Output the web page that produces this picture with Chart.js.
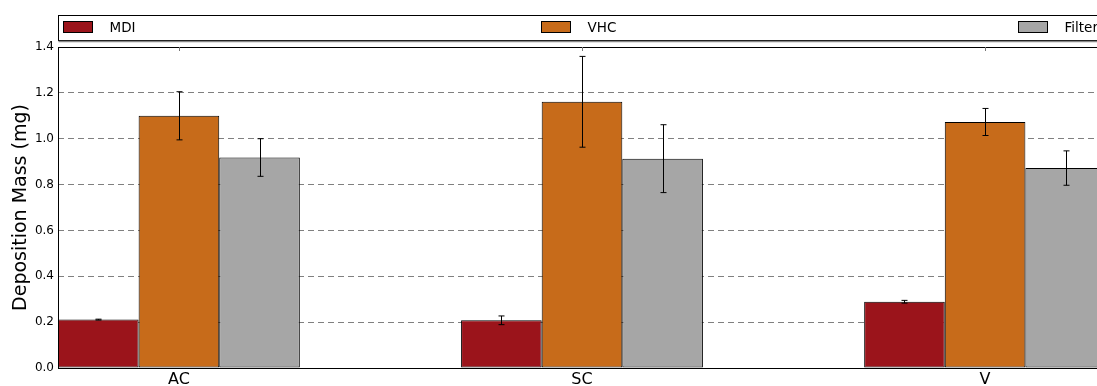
<!DOCTYPE html>
<html>
<head>
<meta charset="utf-8">
<script src="https://cdn.jsdelivr.net/npm/chart.js@4/dist/chart.umd.min.js"></script>
<style>
  html, body { margin: 0; padding: 0; background: #fff; overflow: hidden; }
  #wrap { width: 1200px; height: 386px; }
</style>
</head>
<body>
<div id="wrap"><canvas id="c" width="1200" height="386"></canvas></div>
<script>
// Deposition site categories (group centres on the x axis at 0, 1, 2)
const categories = ['AC', 'SC', 'V'];
const seriesNames = ['MDI', 'VHC', 'Filter'];

// Mean deposition mass (mg)
const mdiMass    = [0.211, 0.208, 0.289];
const vhcMass    = [1.100, 1.161, 1.073];
const filterMass = [0.918, 0.913, 0.872];

// Standard deviation (mg)
const mdiErr    = [0.002, 0.019, 0.006];
const vhcErr    = [0.105, 0.198, 0.059];
const filterErr = [0.082, 0.148, 0.075];

const yTicks = [0, 0.2, 0.4, 0.6, 0.8, 1.0, 1.2, 1.4];

const colors = ['#9b141b', '#c76b1a', '#a6a6a6'];
const FONT = '"DejaVu Sans", Verdana, sans-serif';

function toPoints(vals) {
  return vals.map((v, i) => ({ x: i, y: v }));
}

const datasets = [mdiMass, vhcMass, filterMass].map((vals, k) => ({
  label: seriesNames[k],
  data: toPoints(vals),
  errors: [mdiErr, vhcErr, filterErr][k],
  backgroundColor: colors[k],
  borderColor: '#000',
  borderWidth: 1,
  borderSkipped: false,
  categoryPercentage: 0.6,
  barPercentage: 1.0
}));

// Vertical error bars with caps
const errorBars = {
  id: 'errorBars',
  afterDatasetsDraw(chart) {
    const ctx = chart.ctx;
    const ys = chart.scales.y;
    ctx.save();
    ctx.strokeStyle = '#000';
    ctx.lineWidth = 1;
    chart.data.datasets.forEach((ds, di) => {
      const meta = chart.getDatasetMeta(di);
      meta.data.forEach((bar, i) => {
        const v = ds.data[i].y, e = ds.errors[i];
        const x = Math.round(bar.x) + 0.5;
        const yTop = ys.getPixelForValue(v + e);
        const yBot = ys.getPixelForValue(v - e);
        ctx.beginPath();
        ctx.moveTo(x, yTop); ctx.lineTo(x, yBot);
        ctx.moveTo(x - 3, yTop); ctx.lineTo(x + 3, yTop);
        ctx.moveTo(x - 3, yBot); ctx.lineTo(x + 3, yBot);
        ctx.stroke();
      });
    });
    ctx.restore();
  }
};

// Axes frame, top ticks and the expanded legend row above the plot
const frameAndLegend = {
  id: 'frameAndLegend',
  afterDraw(chart) {
    const ctx = chart.ctx;
    const a = chart.chartArea;
    const xs = chart.scales.x;
    ctx.save();
    ctx.strokeStyle = '#000';
    ctx.lineWidth = 1;
    ctx.strokeRect(Math.round(a.left) + 0.5, Math.round(a.top) + 0.5,
                   Math.round(a.right - a.left), Math.round(a.bottom - a.top));
    // inward ticks on the top spine
    ctx.strokeStyle = '#777';
    [0, 1, 2].forEach(v => {
      const x = Math.round(xs.getPixelForValue(v)) + 0.5;
      ctx.beginPath();
      ctx.moveTo(x, a.top); ctx.lineTo(x, a.top + 4);
      ctx.stroke();
    });

    // legend box
    const lx = Math.round(a.left) + 0.5, ly = 15.5, lw = Math.round(a.right - a.left), lh = 25;
    ctx.fillStyle = '#fff';
    ctx.fillRect(lx, ly, lw, lh);
    ctx.strokeStyle = '#000';
    ctx.strokeRect(lx, ly, lw, lh);
    ctx.strokeStyle = '#888';
    ctx.lineWidth = 1.5;
    ctx.beginPath();
    ctx.moveTo(lx, ly + lh + 1); ctx.lineTo(lx + lw, ly + lh + 1);
    ctx.stroke();

    ctx.font = '13.5px ' + FONT;
    ctx.textBaseline = 'middle';
    ctx.textAlign = 'left';
    chart.data.datasets.forEach((ds, k) => {
      const px = Math.round(a.left + 5 + k * 477.5) + 0.5;
      ctx.fillStyle = ds.backgroundColor;
      ctx.fillRect(px, 21.5, 29, 11);
      ctx.strokeStyle = '#000';
      ctx.lineWidth = 1;
      ctx.strokeRect(px, 21.5, 29, 11);
      ctx.fillStyle = '#000';
      ctx.fillText(ds.label, px + 46, 28);
    });
    ctx.restore();
  }
};

new Chart(document.getElementById('c'), {
  type: 'bar',
  data: { datasets },
  options: {
    responsive: false,
    animation: false,
    layout: { padding: { top: 47, right: 94, left: 0, bottom: 0 } },
    plugins: { legend: { display: false }, tooltip: { enabled: false } },
    scales: {
      x: {
        type: 'linear',
        min: -0.3,
        max: 2.3,
        offset: false,
        grid: { display: false, drawTicks: false },
        border: { display: false },
        afterBuildTicks(scale) { scale.ticks = categories.map((_, i) => ({ value: i })); },
        afterFit(scale) { scale.height = 18; },
        ticks: {
          padding: 2,
          color: '#000',
          font: { family: FONT, size: 16 },
          maxRotation: 0,
          callback: v => categories[v]
        }
      },
      y: {
        min: 0,
        max: 1.4,
        afterBuildTicks(scale) { scale.ticks = yTicks.map(v => ({ value: v })); },
        afterFit(scale) { scale.width = 58; },
        grid: {
          color: ctx => (ctx.tick && (ctx.tick.value === 0 || ctx.tick.value === 1.4)) ? 'rgba(0,0,0,0)' : '#808080',
          lineWidth: 1,
          drawTicks: false
        },
        border: { display: false, dash: [6, 4] },
        ticks: {
          padding: 4,
          color: '#000',
          font: { family: FONT, size: 12 },
          callback: v => v.toFixed(1)
        },
        title: {
          display: true,
          text: 'Deposition Mass (mg)',
          color: '#000',
          font: { family: FONT, size: 19 },
          padding: { top: 10, bottom: 0 }
        }
      }
    }
  },
  plugins: [errorBars, frameAndLegend]
});
</script>
</body>
</html>
